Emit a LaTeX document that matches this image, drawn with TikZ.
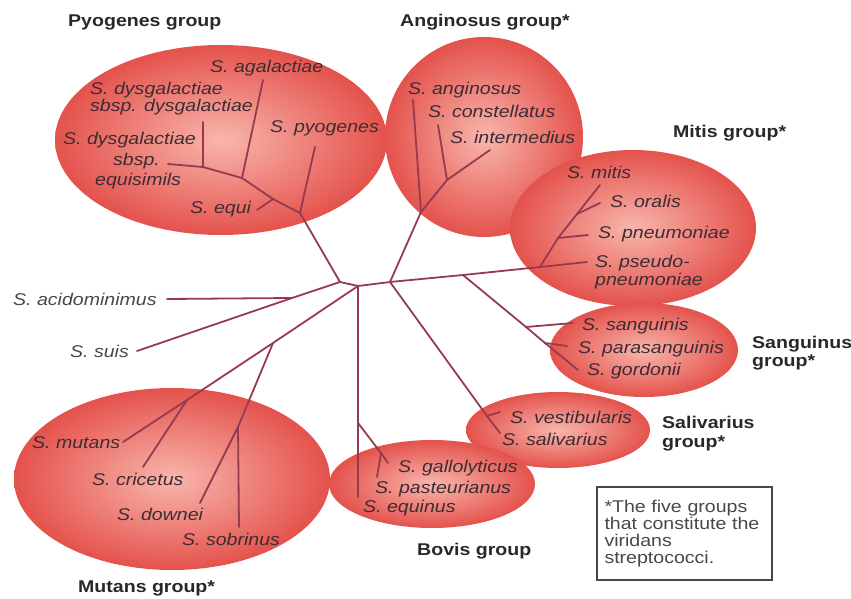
\documentclass[tikz,border=0pt]{standalone}
\usepackage{fontspec}
\setmainfont{Liberation Sans}[FakeStretch=1.15]
\usetikzlibrary{shapes.geometric}
\definecolor{grpin}{RGB}{248,182,172}
\definecolor{grpout}{RGB}{228,82,76}
\definecolor{branch}{RGB}{150,58,82}
\definecolor{spcol}{RGB}{62,44,52}
\definecolor{grpcol}{RGB}{40,40,40}
\definecolor{outcol}{RGB}{72,72,72}
\begin{document}
\begin{tikzpicture}[x=1pt,y=-1pt,
  grp/.style={ellipse, inner sep=0pt, shade, inner color=grpin, outer color=grpout, draw=none},
  br/.style={draw=branch, line width=1.8pt, line join=round, line cap=round},
  sp/.style={anchor=base west, inner sep=0pt, font=\fontsize{17}{18}\selectfont\itshape, text=spcol},
  op/.style={sp, text=outcol},
  gl/.style={anchor=base west, inner sep=0pt, font=\fontsize{17}{18}\selectfont\bfseries, text=grpcol},
  notebox/.style={draw=outcol, line width=1.2pt, minimum width=175pt, minimum height=93pt, inner sep=0pt,
     align=left, text width=160pt, font=\fontsize{17}{17}\selectfont, text=outcol},
]
\useasboundingbox (0,0) rectangle (851,599);
% group ellipses
\node[grp, minimum width=332pt, minimum height=190pt] (epyo) at (221,140) {};
\node[grp, minimum width=198pt, minimum height=200pt] (eang) at (484,137) {};
\node[grp, minimum width=246pt, minimum height=156pt] (emit) at (633,228) {};
\node[grp, minimum width=188pt, minimum height=94pt] (esan) at (644,350) {};
\node[grp, minimum width=184pt, minimum height=76pt] (esal) at (558,430) {};
\node[grp, minimum width=206pt, minimum height=88pt] (ebov) at (432,484) {};
\node[grp, minimum width=316pt, minimum height=182pt] (emut) at (172,479) {};
% tree coordinates
\coordinate (A) at (340,282);
\coordinate (B) at (358,286);
\coordinate (C) at (390,282);
\coordinate (P0) at (300,213);
\coordinate (P1) at (273,199);
\coordinate (P2) at (242,178);
\coordinate (P3) at (203,167);
\coordinate (Lpyo) at (315,147);
\coordinate (Lequi) at (257,210);
\coordinate (Lagal) at (263,80);
\coordinate (Ldys) at (203,122);
\coordinate (Lequis) at (168,164);
\coordinate (Lsuis) at (137,351);
\coordinate (K) at (292,298);
\coordinate (Lacid) at (167,299);
\coordinate (G0) at (421,212);
\coordinate (G1) at (447,180);
\coordinate (Lang) at (413,100);
\coordinate (Lcon) at (438,125);
\coordinate (Lint) at (490,150);
\coordinate (Lpse) at (587,262);
\coordinate (S0) at (463,275);
\coordinate (M0) at (540,267);
\coordinate (M1) at (558,238);
\coordinate (M2) at (577,214);
\coordinate (Lmit) at (600,185);
\coordinate (Lpne) at (588,235);
\coordinate (Lora) at (600,203);
\coordinate (Q1) at (526,327);
\coordinate (Q2) at (545,343);
\coordinate (Lsan) at (573,323);
\coordinate (Lpar) at (567,346);
\coordinate (Lgor) at (578,370);
\coordinate (V) at (487,416);
\coordinate (Lves) at (500,412);
\coordinate (Lsal) at (500,433);
\coordinate (Bv1) at (358,423);
\coordinate (Bv2) at (381,453);
\coordinate (Lgal) at (388,463);
\coordinate (Lpas) at (377,477);
\coordinate (Lequ) at (358,497);
\coordinate (Mu0) at (273,343);
\coordinate (Mu1) at (187,400);
\coordinate (Mu2) at (238,427);
\coordinate (Lmut) at (123,442);
\coordinate (Lcri) at (143,467);
\coordinate (Ldow) at (200,503);
\coordinate (Lsob) at (239,527);
% branches
\draw[br] (A) -- (B) -- (C);
\draw[br] (A) -- (P0) -- (P1) -- (P2) -- (P3) -- (Lequis);
\draw[br] (P0) -- (Lpyo);
\draw[br] (P1) -- (Lequi);
\draw[br] (P2) -- (Lagal);
\draw[br] (P3) -- (Ldys);
\draw[br] (A) -- (K) -- (Lsuis);
\draw[br] (K) -- (Lacid);
\draw[br] (C) -- (G0) -- (G1) -- (Lint);
\draw[br] (G0) -- (Lang);
\draw[br] (G1) -- (Lcon);
\draw[br] (C) -- (S0) -- (M0) -- (Lpse);
\draw[br] (M0) -- (M1) -- (M2) -- (Lmit);
\draw[br] (M1) -- (Lpne);
\draw[br] (M2) -- (Lora);
\draw[br] (S0) -- (Q1) -- (Q2) -- (Lgor);
\draw[br] (Q1) -- (Lsan);
\draw[br] (Q2) -- (Lpar);
\draw[br] (C) -- (V) -- (Lsal);
\draw[br] (V) -- (Lves);
\draw[br] (B) -- (Bv1) -- (Lequ);
\draw[br] (Bv1) -- (Bv2) -- (Lgal);
\draw[br] (Bv2) -- (Lpas);
\draw[br] (B) -- (Mu0) -- (Mu1) -- (Lmut);
\draw[br] (Mu1) -- (Lcri);
\draw[br] (Mu0) -- (Mu2) -- (Ldow);
\draw[br] (Mu2) -- (Lsob);
% species labels
\node[sp] (tagal) at (210,73) {S. agalactiae};
\node[sp] (tdys1) at (90,95) {S. dysgalactiae};
\node[sp] (tdys2) at (90,112) {sbsp. dysgalactiae};
\node[sp] (teqs1) at (63,145) {S. dysgalactiae};
\node[sp] (teqs2) at (113,165) {sbsp.};
\node[sp] (teqs3) at (95,185) {equisimils};
\node[sp] (tequi) at (190,213) {S. equi};
\node[sp] (tpyo) at (270,133) {S. pyogenes};
\node[op] (tacid) at (13,305) {S. acidominimus};
\node[op] (tsuis) at (70,357) {S. suis};
\node[sp] (tang) at (408,95) {S. anginosus};
\node[sp] (tcon) at (428,118) {S. constellatus};
\node[sp] (tint) at (450,143) {S. intermedius};
\node[sp] (tmit) at (567,178) {S. mitis};
\node[sp] (tora) at (610,207) {S. oralis};
\node[sp] (tpne) at (598,238) {S. pneumoniae};
\node[sp] (tpse1) at (595,267) {S. pseudo-};
\node[sp] (tpse2) at (595,285) {pneumoniae};
\node[sp] (tsan) at (582,330) {S. sanguinis};
\node[sp] (tpar) at (578,353) {S. parasanguinis};
\node[sp] (tgor) at (587,375) {S. gordonii};
\node[sp] (tves) at (510,423) {S. vestibularis};
\node[sp] (tsal) at (502,445) {S. salivarius};
\node[sp] (tgal) at (398,472) {S. gallolyticus};
\node[sp] (tpas) at (375,493) {S. pasteurianus};
\node[sp] (tequ) at (363,512) {S. equinus};
\node[sp] (tmut) at (32,448) {S. mutans};
\node[sp] (tcri) at (92,485) {S. cricetus};
\node[sp] (tdow) at (117,520) {S. downei};
\node[sp] (tsob) at (182,545) {S. sobrinus};
% group labels
\node[gl] (gpyo) at (68,27) {Pyogenes group};
\node[gl] (gang) at (400,27) {Anginosus group*};
\node[gl] (gmit) at (673,138) {Mitis group*};
\node[gl] (gsan1) at (752,348) {Sanguinus};
\node[gl] (gsan2) at (752,366) {group*};
\node[gl] (gsal1) at (662,428) {Salivarius};
\node[gl] (gsal2) at (662,447) {group*};
\node[gl] (gbov) at (417,555) {Bovis group};
\node[gl] (gmut) at (78,592) {Mutans group*};
% note
\node[notebox] (note) at (684.5,533.5) {*The five groups\\that constitute the\\viridans\\streptococci.};
\end{tikzpicture}
\end{document}
